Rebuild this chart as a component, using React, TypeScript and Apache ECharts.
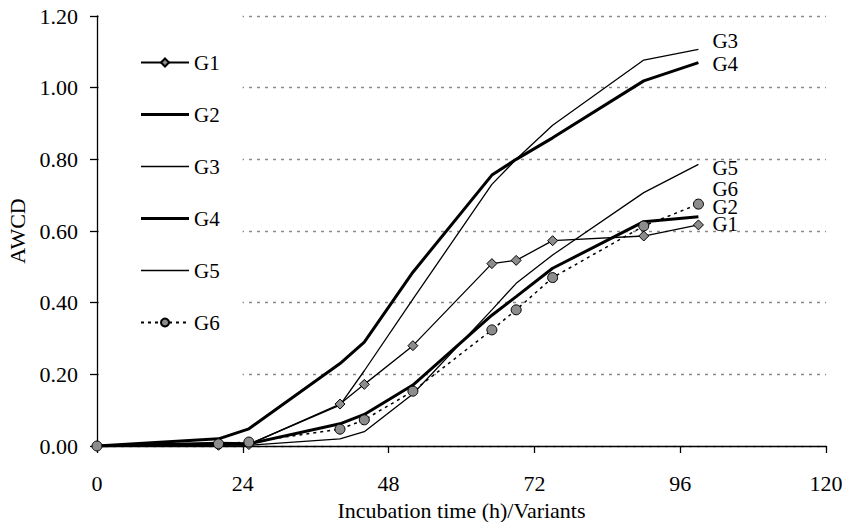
import React, { useEffect, useRef } from "react";
import * as echarts from "echarts";

const times = [0, 20, 25, 40, 44, 52, 65, 69, 75, 90, 99];
const g1 = [0, 0.002, 0.004, 0.117, 0.172, 0.28, 0.509, 0.518, 0.573, 0.586, 0.617];
const g2 = [0, 0.008, 0.006, 0.062, 0.088, 0.17, 0.365, 0.417, 0.496, 0.626, 0.64];
const g3 = [0, 0.005, 0.005, 0.114, 0.21, 0.41, 0.73, 0.8, 0.895, 1.077, 1.107];
const g4 = [0, 0.02, 0.048, 0.23, 0.29, 0.485, 0.756, 0.8, 0.86, 1.019, 1.07];
const g5 = [0, 0.003, 0.002, 0.02, 0.04, 0.145, 0.38, 0.454, 0.533, 0.707, 0.786];
const g6 = [0, 0.006, 0.011, 0.047, 0.073, 0.153, 0.324, 0.38, 0.47, 0.614, 0.675];

const names = ["G1", "G2", "G3", "G4", "G5", "G6"];
const xTicks = [0, 24, 48, 72, 96, 120];
const yTicks = [0, 0.2, 0.4, 0.6, 0.8, 1.0, 1.2];

const FONT = "Liberation Serif";
const THICK_ICON = "path://M0,0h48v3h-48z";
const THIN_ICON = "path://M0,0h48v1.3h-48z";

export default function App() {
  const ref = useRef<HTMLDivElement>(null);
  useEffect(() => {
    if (!ref.current) return;
    const chart = echarts.init(ref.current, null, { renderer: "svg" });
    const pts = (arr: number[]) => times.map((t, i) => [t, arr[i]]);
    const endLabel = (dy: number) => ({
      show: true,
      formatter: "{a}",
      distance: 14,
      offset: [0, dy],
      fontSize: 21,
      lineHeight: 14,
      fontFamily: FONT,
      color: "#000",
    });
    const lineBase = {
      type: "line" as const,
      silent: true,
    };
    chart.setOption({
      animation: false,
      backgroundColor: "#fff",
      textStyle: { fontFamily: FONT },
      grid: {
        left: 97,
        right: 23,
        top: 16,
        bottom: 76,
        containLabel: false,
        outerBoundsMode: "none",
      },
      legend: {
        orient: "vertical",
        left: 99,
        top: 9,
        data: [
          { name: names[0] },
          { name: names[1], icon: THICK_ICON },
          { name: names[2], icon: THIN_ICON },
          { name: names[3], icon: THICK_ICON },
          { name: names[4], icon: THIN_ICON },
          { name: names[5] },
        ],
        itemWidth: 48,
        itemHeight: 10,
        itemGap: 31,
        padding: [43, 23, 46, 41],
        backgroundColor: "#fff",
        textStyle: { fontSize: 21, fontFamily: FONT, color: "#000" },
      },
      xAxis: {
        type: "value",
        min: xTicks[0],
        max: xTicks[xTicks.length - 1],
        interval: 24,
        name: "Incubation time (h)/Variants",
        nameLocation: "middle",
        nameGap: 53,
        nameTextStyle: { fontSize: 22, fontFamily: FONT, color: "#000" },
        axisLine: { lineStyle: { color: "#000", width: 1.3 } },
        axisTick: { show: true, length: 7, lineStyle: { color: "#000", width: 1.3 } },
        axisLabel: { margin: 26, fontSize: 22, fontFamily: FONT, color: "#000" },
        splitLine: { show: false },
      },
      yAxis: {
        type: "value",
        min: yTicks[0],
        max: yTicks[yTicks.length - 1],
        interval: 0.2,
        name: "AWCD",
        nameLocation: "middle",
        nameGap: 58,
        nameRotate: 90,
        nameTextStyle: { fontSize: 22, fontFamily: FONT, color: "#000" },
        axisLine: { show: true, lineStyle: { color: "#000", width: 1.3 } },
        axisTick: { show: true, length: 7, lineStyle: { color: "#000", width: 1.3 } },
        axisLabel: {
          margin: 19,
          fontSize: 22,
          fontFamily: FONT,
          color: "#000",
          formatter: (v: number) => v.toFixed(2),
        },
        splitLine: {
          show: true,
          lineStyle: { color: "#8a8a8a", width: 1.3, type: [3, 5] },
        },
      },
      series: [
        {
          ...lineBase,
          name: "G1",
          data: pts(g1),
          symbol: "diamond",
          symbolSize: 10,
          showSymbol: true,
          lineStyle: { color: "#000", width: 1.3 },
          itemStyle: { color: "#8c8c8c", borderColor: "#000", borderWidth: 1 },
          endLabel: endLabel(-1),
          z: 3,
        },
        {
          ...lineBase,
          name: "G2",
          data: pts(g2),
          symbol: "none",
          lineStyle: { color: "#000", width: 3 },
          itemStyle: { color: "#000" },
          endLabel: endLabel(-10),
          z: 2,
        },
        {
          ...lineBase,
          name: "G3",
          data: pts(g3),
          symbol: "none",
          lineStyle: { color: "#000", width: 1.3 },
          itemStyle: { color: "#000" },
          endLabel: endLabel(-8),
          z: 2,
        },
        {
          ...lineBase,
          name: "G4",
          data: pts(g4),
          symbol: "none",
          lineStyle: { color: "#000", width: 3 },
          itemStyle: { color: "#000" },
          endLabel: endLabel(1),
          z: 2,
        },
        {
          ...lineBase,
          name: "G5",
          data: pts(g5),
          symbol: "none",
          lineStyle: { color: "#000", width: 1.3 },
          itemStyle: { color: "#000" },
          endLabel: endLabel(4),
          z: 2,
        },
        {
          ...lineBase,
          name: "G6",
          data: pts(g6),
          symbol: "circle",
          symbolSize: 10,
          showSymbol: true,
          lineStyle: { color: "#000", width: 1.5, type: [3, 4] },
          itemStyle: { color: "#8c8c8c", borderColor: "#000", borderWidth: 1 },
          endLabel: endLabel(-15),
          z: 4,
        },
      ],
    });
    return () => chart.dispose();
  }, []);
  return (
    <div
      ref={ref}
      style={{ position: "fixed", left: 0, top: 0, width: 849, height: 522 }}
    />
  );
}
